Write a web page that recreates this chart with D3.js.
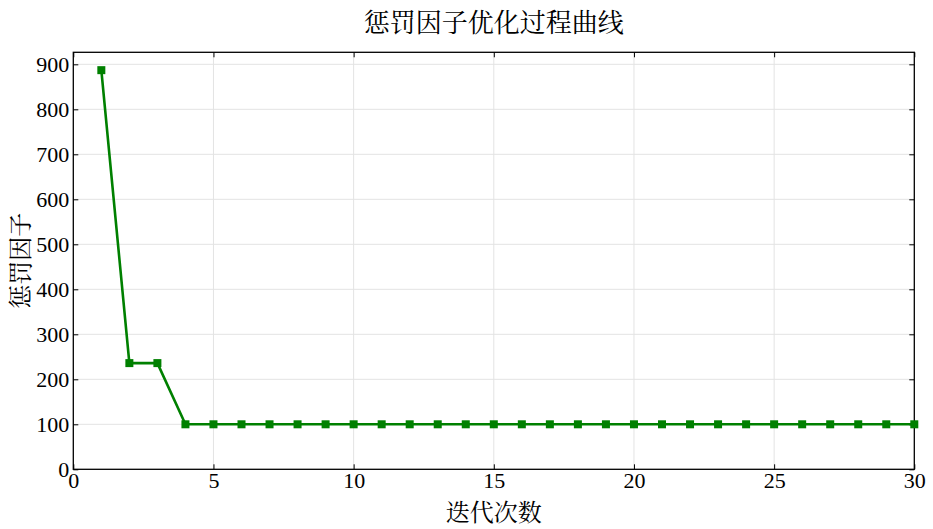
<!DOCTYPE html>
<html><head><meta charset="utf-8">
<script src="https://cdn.jsdelivr.net/npm/d3@7"></script>
<style>body{margin:0;background:#fff}svg{display:block}</style>
</head><body>
<svg id="c" width="933" height="529"></svg>
<script>
const iterations = d3.range(1, 31);
const penalty = [887, 236, 236, 100, 100, 100, 100, 100, 100, 100,
                 100, 100, 100, 100, 100, 100, 100, 100, 100, 100,
                 100, 100, 100, 100, 100, 100, 100, 100, 100, 100];
const xTicks = [0, 5, 10, 15, 20, 25, 30];
const yTicks = [0, 100, 200, 300, 400, 500, 600, 700, 800, 900];
const titleText = "惩罚因子优化过程曲线";
const xLabel = "迭代次数";
const yLabel = "惩罚因子";

const svg = d3.select("#c");
const m = {l: 73.3, r: 914.3, t: 52.3, b: 469.3};
const x = d3.scaleLinear().domain([0, 30]).range([m.l, m.r]);
const y = d3.scaleLinear().domain([0, 926.7]).range([m.b, m.t]);
const serif = "'Liberation Serif','Times New Roman',serif";
const cjk = "'Noto Serif CJK SC','Noto Sans CJK SC',serif";

// grid
svg.append("g").selectAll("line").data(yTicks.filter(d => d > 0)).join("line")
  .attr("x1", m.l).attr("x2", m.r).attr("y1", d => y(d)).attr("y2", d => y(d))
  .attr("stroke", "#e3e3e3").attr("stroke-width", 1);
svg.append("g").selectAll("line").data(xTicks.filter(d => d > 0 && d < 30)).join("line")
  .attr("y1", m.t).attr("y2", m.b).attr("x1", d => x(d)).attr("x2", d => x(d))
  .attr("stroke", "#e3e3e3").attr("stroke-width", 1);

// axes (inward ticks)
function styleAxis(g) {
  g.select(".domain").remove();
  g.selectAll(".tick line").attr("stroke", "#000").attr("stroke-width", 1);
  g.selectAll(".tick text").attr("font-family", serif).attr("font-size", 22).attr("fill", "#000");
}
svg.append("g").attr("transform", `translate(0,${m.b})`)
  .call(d3.axisBottom(x).tickValues(xTicks).tickSizeInner(-5).tickPadding(3).tickFormat(d3.format("d")))
  .call(styleAxis);
svg.append("g").attr("transform", `translate(0,${m.t})`)
  .call(d3.axisTop(x).tickValues(xTicks).tickSizeInner(-5).tickFormat(""))
  .call(styleAxis);
svg.append("g").attr("transform", `translate(${m.l},0)`)
  .call(d3.axisLeft(y).tickValues(yTicks).tickSizeInner(-5).tickPadding(4).tickFormat(d3.format("d")))
  .call(styleAxis);
svg.append("g").attr("transform", `translate(${m.r},0)`)
  .call(d3.axisRight(y).tickValues(yTicks).tickSizeInner(-5).tickFormat(""))
  .call(styleAxis);

// frame
svg.append("rect").attr("x", m.l).attr("y", m.t).attr("width", m.r - m.l).attr("height", m.b - m.t)
  .attr("fill", "none").attr("stroke", "#000").attr("stroke-width", 1.3);

// line
const data = iterations.map((d, i) => ({it: d, v: penalty[i]}));
svg.append("path").datum(data)
  .attr("d", d3.line().x(d => x(d.it)).y(d => y(d.v)))
  .attr("fill", "none").attr("stroke", "#008000").attr("stroke-width", 2.6);
svg.append("g").selectAll("rect").data(data).join("rect")
  .attr("x", d => x(d.it) - 4).attr("y", d => y(d.v) - 4)
  .attr("width", 8).attr("height", 8).attr("fill", "#008000");

// texts
svg.append("text").attr("x", (m.l + m.r) / 2).attr("y", 32).attr("text-anchor", "middle")
  .attr("font-family", cjk).attr("font-size", 26).text(titleText);
svg.append("text").attr("x", (m.l + m.r) / 2).attr("y", 521).attr("text-anchor", "middle")
  .attr("font-family", cjk).attr("font-size", 24).text(xLabel);
svg.append("text").attr("transform", `translate(29,${(m.t + m.b) / 2}) rotate(-90)`)
  .attr("text-anchor", "middle").attr("font-family", cjk).attr("font-size", 24).text(yLabel);
</script>
</body></html>
